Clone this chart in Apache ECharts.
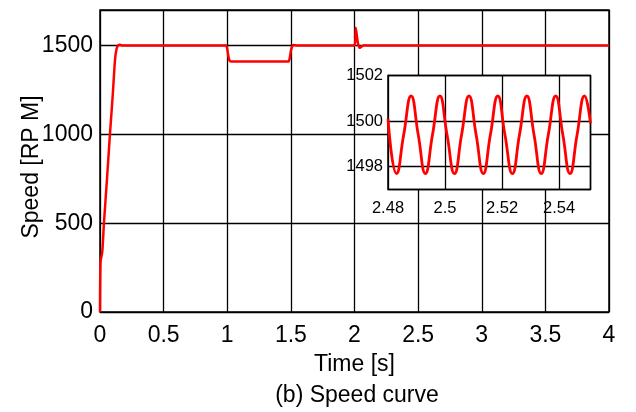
<!DOCTYPE html>
<html>
<head>
<meta charset="utf-8">
<script src="https://cdn.jsdelivr.net/npm/echarts@6/dist/echarts.min.js"></script>
<style>
  html, body { margin: 0; padding: 0; background: #fff; }
  #chart { width: 636px; height: 412px; }
</style>
</head>
<body>
<div id="chart"></div>
<script>
// main speed curve
var timeMain = [0, 0.004, 0.018, 0.031, 0.055, 0.078, 0.1, 0.118, 0.13, 0.142, 0.157, 0.175,
  0.5, 0.99, 1.0, 1.01, 1.02, 1.035, 1.48, 1.49, 1.5, 1.51, 1.52, 1.53, 1.55,
  2.0, 2.01, 2.025, 2.04, 2.06, 2.08, 2.1, 2.5, 3.0, 3.5, 4.0]
var speedMain = [0, 280, 340, 500, 750, 1000, 1220, 1420, 1480, 1500, 1505, 1500,
  1500, 1500, 1480, 1435, 1413, 1410, 1410, 1425, 1470, 1495, 1503, 1502, 1500,
  1500, 1600, 1520, 1487, 1497, 1501, 1500, 1500, 1500, 1500, 1500]

// zoomed ripple (inset)
var timeZoom = [2.48, 2.483, 2.4855, 2.4881, 2.4906, 2.4931, 2.4956, 2.4982, 2.5007,
  2.5033, 2.5058, 2.5084, 2.5109, 2.5134, 2.5159, 2.5185, 2.521, 2.5236, 2.5261,
  2.5287, 2.5312, 2.5337, 2.5362, 2.5388, 2.5413, 2.5438, 2.5463, 2.5489, 2.551]
var speedZoom = [1500.1, 1497.7, 1499.4, 1501.1, 1499.4, 1497.7, 1499.4, 1501.1, 1499.4,
  1497.7, 1499.4, 1501.1, 1499.4, 1497.7, 1499.4, 1501.1, 1499.4, 1497.7, 1499.4,
  1501.1, 1499.4, 1497.7, 1499.4, 1501.1, 1499.4, 1497.7, 1499.4, 1501.1, 1499.9]

var xTicks = [0, 0.5, 1, 1.5, 2, 2.5, 3, 3.5, 4]
var yTicks = [0, 500, 1000, 1500]
var zoomYTicks = [1498, 1500, 1502]

var font = '"Liberation Sans", Arial, sans-serif'

function pairs(xs, ys) {
  return xs.map(function (x, i) { return [x, ys[i]] })
}

var chart = echarts.init(document.getElementById('chart'), null, { renderer: 'canvas' })

var gridLine = { show: true, lineStyle: { color: '#000', width: 1.3 } }

var option = {
  backgroundColor: '#fff',
  animation: false,
  title: {
    text: '(b) Speed curve',
    left: 352,
    top: 379,
    textAlign: 'center',
    textStyle: { fontFamily: font, fontSize: 23, fontWeight: 'normal', color: '#000' },
  },
  grid: [
    {
      // main plot
      left: 100, top: 10, right: 27, bottom: 100,
      outerBoundsMode: 'none',
      show: true, borderColor: '#000', borderWidth: 1.5,
      backgroundColor: 'transparent',
    },
    {
      // inset
      left: 388, top: 75.5, width: 202.5, height: 114,
      outerBoundsMode: 'none',
      show: true, borderColor: '#000', borderWidth: 1.5,
      backgroundColor: '#fff', z: 5,
    },
  ],
  xAxis: [
    {
      type: 'value', gridIndex: 0,
      min: 0, max: 4, interval: 0.5,
      name: 'Time [s]', nameLocation: 'middle', nameGap: 41, nameMoveOverlap: false,
      nameTextStyle: { fontFamily: font, fontSize: 23, color: '#000' },
      axisLine: { show: false }, axisTick: { show: false },
      axisLabel: {
        fontFamily: font, fontSize: 23, color: '#000', margin: 12,
        formatter: function (v) { return xTicks.indexOf(v) >= 0 ? String(v) : '' },
      },
      splitLine: gridLine,
    },
    {
      type: 'value', gridIndex: 1, z: 6,
      min: 2.48, max: 2.551, interval: 0.02,
      axisLine: { show: false }, axisTick: { show: false },
      axisLabel: {
        fontFamily: font, fontSize: 16.5, color: '#000', margin: 10, showMaxLabel: false,
        formatter: function (v) { return String(+v.toFixed(2)) },
      },
      splitLine: gridLine,
    },
  ],
  yAxis: [
    {
      type: 'value', gridIndex: 0,
      min: 0, max: 1700, interval: 500,
      name: 'Speed [RP M]', nameLocation: 'middle', nameGap: 57, nameMoveOverlap: false,
      nameTextStyle: { fontFamily: font, fontSize: 23, color: '#000', padding: [0, 12, 0, 0] },
      axisLine: { show: false }, axisTick: { show: false },
      axisLabel: {
        fontFamily: font, fontSize: 23, color: '#000', margin: 7, showMaxLabel: false,
        formatter: function (v) { return yTicks.indexOf(v) >= 0 ? String(v) : '' },
      },
      splitLine: gridLine,
    },
    {
      type: 'value', gridIndex: 1, z: 6,
      min: 1497, max: 1502, splitNumber: 3,
      axisLine: { show: false }, axisTick: { show: false },
      axisLabel: {
        fontFamily: font, fontSize: 16.5, color: '#000', margin: 5,
        formatter: function (v) { return zoomYTicks.indexOf(Math.round(v)) >= 0 && Math.abs(v - Math.round(v)) < 1e-6 ? String(Math.round(v)) : '' },
      },
      splitLine: gridLine,
    },
  ],
  series: [
    {
      type: 'line', xAxisIndex: 0, yAxisIndex: 0,
      data: pairs(timeMain, speedMain),
      showSymbol: false, smooth: 0.2,
      lineStyle: { color: '#ff0000', width: 2.5 },
    },
    {
      type: 'line', xAxisIndex: 1, yAxisIndex: 1, z: 7,
      data: pairs(timeZoom, speedZoom),
      showSymbol: false, smooth: 0.5,
      lineStyle: { color: '#ff0000', width: 2.8 },
    },
  ],
}

chart.setOption(option)
</script>
</body>
</html>
